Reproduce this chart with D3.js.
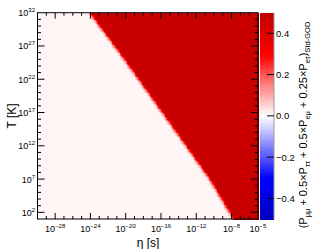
<!DOCTYPE html>
<html>
<head>
<meta charset="utf-8">
<script src="https://cdn.jsdelivr.net/npm/d3@7"></script>
<style>
  body { margin: 0; background: #fff; }
  svg { font-family: "Liberation Sans", Arial, sans-serif; }
</style>
</head>
<body>
<script>
// log10(eta) domain and log10(T) domain
const etaRange = [-30, -5];
const tRange = [1, 32];
const etaTicks = [-28, -24, -20, -16, -12, -8, -5];
const tTicks = [2, 7, 12, 17, 22, 27, 32];
const zTicks = [-0.4, -0.2, 0.0, 0.2, 0.4];

// red / white boundary (log T -> log eta)
const edgeLogT = [1, 7, 25, 32];
const edgeLogEta = [-7.5, -10.2, -19.9, -23.8];
const plateau = 0.47;    // value inside the red region
const floorValue = 0.012; // value in the pale region
const fadeWidth = 0.7;   // decades over which red fades out

const W = 315, H = 249;
const plot = { left: 37.5, right: 258, top: 12.7, bottom: 219 };
const bar = { left: 260, right: 274 };

const svg = d3.select("body").append("svg").attr("width", W).attr("height", H);

const x = d3.scaleLinear().domain(etaRange).range([plot.left, plot.right]);
const y = d3.scaleLinear().domain(tRange).range([plot.bottom, plot.top]);
const z = d3.scaleLinear().domain([-0.5, 0.5]).range([plot.bottom, plot.top]);
const color = d3.scaleLinear()
  .domain([-0.5, -0.3, 0, 0.3, 0.5])
  .range(["#0000c0", "#0000ff", "#ffffff", "#ff0000", "#c00000"])
  .clamp(true);
const edge = d3.scaleLinear().domain(edgeLogT).range(edgeLogEta);

// cells
const dx = 0.1, dy = 0.2;
const cells = [];
for (let lt = tRange[0]; lt < tRange[1] - 1e-9; lt += dy) {
  const b = edge(lt + dy / 2);
  for (let le = etaRange[0]; le < etaRange[1] - 1e-9; le += dx) {
    const c = le + dx / 2;
    let v;
    if (c >= b) v = plateau;
    else {
      const f = Math.max(0, 1 - (b - c) / fadeWidth);
      v = floorValue + (plateau - floorValue) * f * f;
    }
    cells.push({ le, lt, v });
  }
}

svg.append("g")
  .attr("shape-rendering", "crispEdges")
  .selectAll("rect")
  .data(cells)
  .enter()
  .append("rect")
  .attr("x", (d) => x(d.le))
  .attr("y", (d) => y(d.lt + dy))
  .attr("width", (d) => x(d.le + dx) - x(d.le) + 0.5)
  .attr("height", (d) => y(d.lt) - y(d.lt + dy) + 0.5)
  .attr("fill", (d) => color(d.v));

// ticks on all four sides
const ticks = svg.append("g").attr("stroke", "#000").attr("stroke-width", 1);
const etaAll = d3.range(etaRange[0] + 1, etaRange[1]);
etaAll.forEach((e) => {
  const len = etaTicks.includes(e) ? 6 : 3;
  ticks.append("line").attr("x1", x(e)).attr("x2", x(e))
    .attr("y1", plot.bottom).attr("y2", plot.bottom - len);
  ticks.append("line").attr("x1", x(e)).attr("x2", x(e))
    .attr("y1", plot.top).attr("y2", plot.top + len);
});
const tAll = d3.range(tRange[0] + 1, tRange[1]);
tAll.forEach((t) => {
  const len = tTicks.includes(t) ? 7 : 3.5;
  ticks.append("line").attr("y1", y(t)).attr("y2", y(t))
    .attr("x1", plot.left).attr("x2", plot.left + len);
  ticks.append("line").attr("y1", y(t)).attr("y2", y(t))
    .attr("x1", plot.right).attr("x2", plot.right - len);
});

// frame
svg.append("rect")
  .attr("x", plot.left).attr("y", plot.top)
  .attr("width", plot.right - plot.left).attr("height", plot.bottom - plot.top)
  .attr("fill", "none").attr("stroke", "#000");

// power-of-ten labels
function powLabel(sel, exp) {
  sel.append("tspan").text("10");
  sel.append("tspan").attr("dy", -4).attr("font-size", 6)
    .text(exp < 0 ? "\u2212" + (-exp) : exp);
}

etaTicks.forEach((e) => {
  const t = svg.append("text").attr("x", x(e)).attr("y", 232)
    .attr("font-size", 9).attr("text-anchor", "middle");
  powLabel(t, e);
});
tTicks.forEach((v) => {
  const t = svg.append("text").attr("x", 35).attr("y", y(v) + 3.5)
    .attr("font-size", 9).attr("text-anchor", "end");
  powLabel(t, v);
});

// axis titles
svg.append("text").attr("x", 148).attr("y", 246.5)
  .attr("font-size", 12).attr("text-anchor", "middle").text("\u03b7 [s]");
svg.append("text").attr("transform", `translate(16,${(plot.top + plot.bottom) / 2}) rotate(-90)`)
  .attr("font-size", 12).attr("text-anchor", "middle").text("T [K]");

// colour bar
const zSteps = d3.range(-0.5, 0.5, 0.005);
svg.append("g")
  .attr("shape-rendering", "crispEdges")
  .selectAll("rect")
  .data(zSteps)
  .enter()
  .append("rect")
  .attr("x", bar.left)
  .attr("y", (d) => z(d + 0.005))
  .attr("width", bar.right - bar.left)
  .attr("height", (d) => z(d) - z(d + 0.005) + 0.5)
  .attr("fill", (d) => color(d + 0.0025));

svg.append("line").attr("x1", bar.right).attr("x2", bar.right)
  .attr("y1", plot.top).attr("y2", plot.bottom).attr("stroke", "#999");

zTicks.forEach((v) => {
  svg.append("line").attr("x1", bar.right - 7).attr("x2", bar.right)
    .attr("y1", z(v)).attr("y2", z(v)).attr("stroke", "#000");
  svg.append("text").attr("x", bar.right + 2).attr("y", z(v) + 3.5)
    .attr("font-size", 9.5)
    .text(v < 0 ? "\u2212" + (-v).toFixed(1) : v.toFixed(1));
});

// colour bar title
const zt = svg.append("text")
  .attr("transform", `translate(307,${125}) rotate(-90)`)
  .attr("font-size", 11).attr("text-anchor", "middle");
const parts = [
  ["(P", 0], ["\u03bc\u03bc", 1], [" + 0.5\u00d7P", 0], ["\u03c4\u03c4", 1],
  [" + 0.5\u00d7P", 0], ["e\u03bc", 1], [" + 0.25\u00d7P", 0], ["e\u03c4", 1],
  [")", 0], ["Std-GOD", 1]
];
let sub = 0;
parts.forEach(([s, isSub]) => {
  const dyv = isSub === sub ? 0 : (isSub ? 3 : -3);
  zt.append("tspan").attr("dy", dyv).attr("font-size", isSub ? 7.5 : 11).text(s);
  sub = isSub;
});
</script>
</body>
</html>
